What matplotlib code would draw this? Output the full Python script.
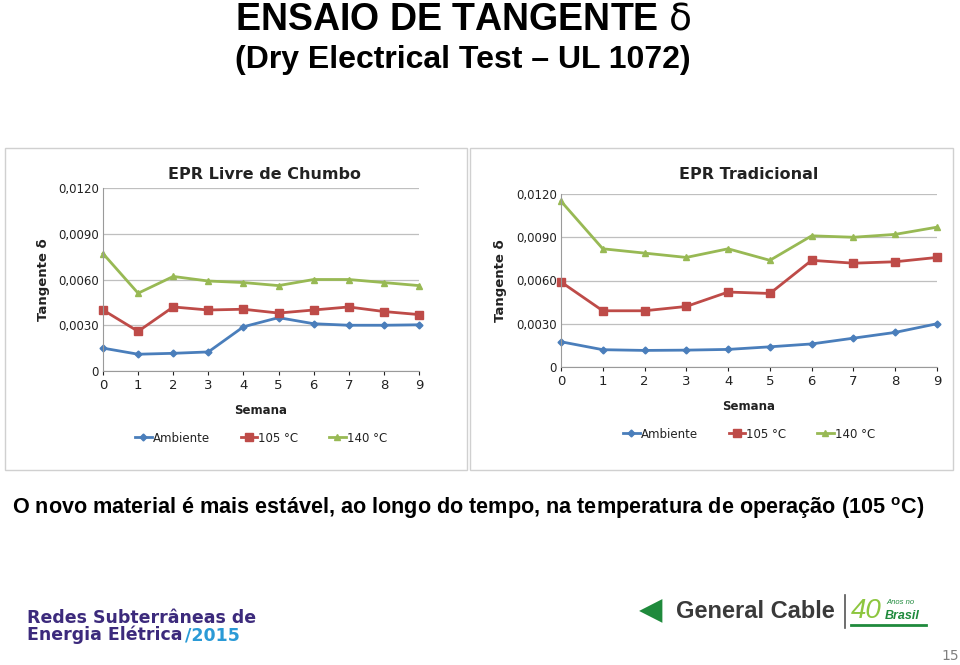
import matplotlib
matplotlib.use("Agg")
import matplotlib.pyplot as plt
from matplotlib.patches import Rectangle
from matplotlib.lines import Line2D
from matplotlib.ticker import FuncFormatter

semanas = [0, 1, 2, 3, 4, 5, 6, 7, 8, 9]

# EPR Livre de Chumbo
livre_amb = [0.0015, 0.0011, 0.00116, 0.00125, 0.0029, 0.0035, 0.0031, 0.0030, 0.0030, 0.00303]
livre_105 = [0.0040, 0.0026, 0.0042, 0.0040, 0.00405, 0.0038, 0.0040, 0.0042, 0.0039, 0.0037]
livre_140 = [0.0077, 0.0051, 0.0062, 0.0059, 0.0058, 0.0056, 0.0060, 0.0060, 0.0058, 0.0056]

# EPR Tradicional
trad_amb = [0.00175, 0.0012, 0.00115, 0.00117, 0.00122, 0.0014, 0.0016, 0.0020, 0.0024, 0.0030]
trad_105 = [0.0059, 0.0039, 0.0039, 0.0042, 0.0052, 0.0051, 0.0074, 0.0072, 0.0073, 0.0076]
trad_140 = [0.0115, 0.0082, 0.0079, 0.0076, 0.0082, 0.0074, 0.0091, 0.0090, 0.0092, 0.0097]

yticks = [0, 0.003, 0.006, 0.009, 0.012]
series_names = ["Ambiente", "105 °C", "140 °C"]
colors = ["#4a7ebb", "#be4b48", "#98b954"]
markers = ["D", "s", "^"]
msizes = [3.5, 5.5, 4.5]

W, H = 960, 665
fig = plt.figure(figsize=(9.6, 6.65), dpi=100)
fig.patch.set_facecolor("white")


def fx(x):
    return x / W


def fy(y):
    return 1 - y / H


def ytick_fmt(v, pos):
    if abs(v) < 1e-9:
        return "0"
    return ("%.4f" % v).replace(".", ",")


def panel(box, axbox, title, title_xy, ylab_x, xlab_y, leg_y, data):
    x0, y0, x1, y1 = box
    fig.add_artist(Rectangle((fx(x0), fy(y1)), fx(x1 - x0), (y1 - y0) / H,
                             transform=fig.transFigure, facecolor="white",
                             edgecolor="#d0d0d0", lw=1.0, zorder=-5))
    ax0, ay0, ax1, ay1 = axbox
    ax = fig.add_axes([fx(ax0), fy(ay1), fx(ax1 - ax0), (ay1 - ay0) / H])
    for vals, name, c, m, ms in zip(data, series_names, colors, markers, msizes):
        ax.plot(semanas, vals, color=c, lw=2.0, marker=m, ms=ms, label=name, clip_on=False)
    ax.set_xlim(0, 9)
    ax.set_ylim(0, 0.012)
    ax.set_yticks(yticks)
    ax.set_xticks(semanas)
    ax.yaxis.set_major_formatter(FuncFormatter(ytick_fmt))
    ax.grid(axis="y", color="#bfbfbf", lw=0.9)
    ax.set_axisbelow(True)
    for s in ["top", "right"]:
        ax.spines[s].set_visible(False)
    ax.spines["left"].set_color("#9a9a9a")
    ax.spines["bottom"].set_color("#9a9a9a")
    ax.tick_params(axis="y", length=0, labelsize=8.5, pad=3, colors="#222222")
    ax.tick_params(axis="x", length=3, labelsize=9.5, pad=3, colors="#222222")
    ax.set_facecolor("none")
    fig.text(fx(title_xy[0]), fy(title_xy[1]), title, ha="center", va="center",
             fontsize=11.5, fontweight="bold", color="#222222")
    fig.text(fx(ylab_x), fy((ay0 + ay1) / 2), "Tangente δ", rotation=90,
             ha="center", va="center", fontsize=9.5, fontweight="bold", color="#222222")
    fig.text(fx((ax0 + ax1) / 2), fy(xlab_y), "Semana", ha="center", va="center",
             fontsize=8.5, fontweight="bold", color="#222222")
    leg = ax.legend(loc="center", bbox_to_anchor=(0.5, (ay1 - leg_y) / (ay1 - ay0)),
                    ncol=3, frameon=False, fontsize=8.5, handlelength=1.4,
                    handletextpad=0.1, columnspacing=2.6)
    for t in leg.get_texts():
        t.set_color("#222222")
    return ax


panel((5, 148, 467, 470), (103, 188, 419, 371), "EPR Livre de Chumbo", (264, 175),
      43, 411, 438, [livre_amb, livre_105, livre_140])
panel((470, 148, 953, 470), (561, 194, 937, 367), "EPR Tradicional", (749, 175),
      500, 406, 434, [trad_amb, trad_105, trad_140])

# Titles
arial = ["Liberation Sans", "DejaVu Sans"]
fig.text(fx(463), fy(20), r"ENSAIO DE TANGENTE $\mathrm{\delta}$", ha="center", va="center",
         fontsize=27, fontweight="bold", family=arial)
fig.text(fx(463), fy(60), "(Dry Electrical Test – UL 1072)", ha="center", va="center",
         fontsize=23, fontweight="bold", family=arial)

fig.text(fx(12), fy(508), "O novo material é mais estável, ao longo do tempo, na temperatura de operação (105 $^{\\mathregular{o}}$C)",
         ha="left", va="center", fontsize=15.6, fontweight="bold", family=arial)

# Footer
fig.text(fx(27), fy(618), "Redes Subterrâneas de", ha="left", va="center",
         fontsize=12.5, fontweight="heavy", color="#3c2a7c")
fig.text(fx(27), fy(635), "Energia Elétrica", ha="left", va="center",
         fontsize=12.5, fontweight="heavy", color="#3c2a7c")
fig.text(fx(185), fy(635), "/2015", ha="left", va="center",
         fontsize=12.5, fontweight="heavy", color="#2a9ad6")

fig.text(fx(651), fy(611), "◀", ha="center", va="center", fontsize=22, color="#1f8a3c")
fig.text(fx(676), fy(611), "General Cable", ha="left", va="center",
         fontsize=17, fontweight="bold", color="#3a3a3a", family=arial)
fig.add_artist(Line2D([fx(845), fx(845)], [fy(595), fy(628)], color="#555555", lw=1.2,
                      transform=fig.transFigure))
fig.text(fx(851), fy(611), "40", ha="left", va="center", fontsize=20,
         fontstyle="italic", color="#8dc63f", family=arial)
fig.text(fx(886), fy(603), "Anos no", ha="left", va="center", fontsize=5.5,
         fontstyle="italic", color="#1f8a3c", family=arial)
fig.text(fx(885), fy(616), "Brasil", ha="left", va="center", fontsize=9,
         fontstyle="italic", fontweight="bold", color="#1f8a3c", family=arial)
fig.add_artist(Line2D([fx(851), fx(926)], [fy(625), fy(625)], color="#1f8a3c", lw=2,
                      transform=fig.transFigure))
fig.text(fx(950), fy(656), "15", ha="center", va="center", fontsize=10, color="#7f7f7f")

fig.savefig("out.png", dpi=100)
